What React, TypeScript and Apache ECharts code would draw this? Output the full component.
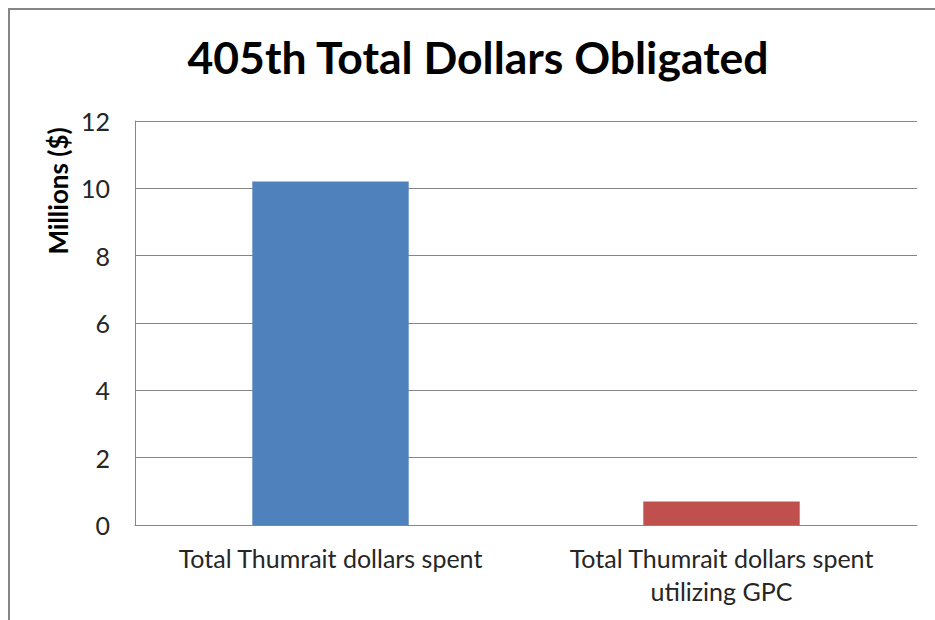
import React, { useEffect, useRef } from "react";
import * as echarts from "echarts";

const titleText = "405th Total Dollars Obligated";
const yAxisTitle = "Millions ($)";
const categories = ["Total Thumrait dollars spent", "Total Thumrait dollars spent\nutilizing GPC"];
const values = [10.2, 0.7];
const barColors = ["#4F81BD", "#C0504D"];
const yMin = 0;
const yMax = 12;
const yInterval = 2;

const FONT = "Lato, 'Open Sans', sans-serif";

export default function App() {
  const ref = useRef<HTMLDivElement>(null);
  useEffect(() => {
    if (!ref.current) return;
    const chart = echarts.init(ref.current, undefined, { renderer: "svg" });
    chart.setOption({
      animation: false,
      backgroundColor: "#ffffff",
      title: {
        text: titleText,
        left: 473,
        textAlign: "center",
        top: 29,
        textStyle: { fontFamily: FONT, fontWeight: "bold", fontSize: 44.5, color: "#000000" },
      },
      grid: { left: 135, right: 18, top: 121, bottom: 95 },
      xAxis: {
        type: "category",
        data: categories,
        axisLine: { lineStyle: { color: "#868686", width: 1 } },
        axisTick: { show: false },
        axisLabel: {
          color: "#262626",
          fontFamily: FONT,
          fontSize: 25,
          lineHeight: 33,
          margin: 16,
          interval: 0,
        },
      },
      yAxis: {
        type: "value",
        min: yMin,
        max: yMax,
        interval: yInterval,
        axisLine: { show: true, lineStyle: { color: "#868686", width: 1 } },
        axisTick: { show: false },
        splitLine: { lineStyle: { color: "#868686", width: 1 } },
        axisLabel: { color: "#262626", fontFamily: FONT, fontSize: 25, margin: 25 },
      },
      series: [
        {
          type: "bar",
          barWidth: "40%",
          data: values.map((v, i) => ({ value: v, itemStyle: { color: barColors[i] } })),
        },
      ],
      graphic: [
        {
          type: "rect",
          shape: { x: 9, y: 9, width: 940, height: 640 },
          style: { fill: "none", stroke: "#868686", lineWidth: 2 },
          silent: true,
        },
        {
          type: "text",
          x: 58,
          y: 191,
          rotation: Math.PI / 2,
          style: {
            text: yAxisTitle,
            fontFamily: FONT,
            fontWeight: "bold",
            fontSize: 26,
            fill: "#000000",
            align: "center",
            verticalAlign: "middle",
          },
        },
      ],
    });
    return () => chart.dispose();
  }, []);
  return (
    <div
      ref={ref}
      style={{ position: "absolute", left: 0, top: 0, width: 935, height: 620 }}
    />
  );
}
